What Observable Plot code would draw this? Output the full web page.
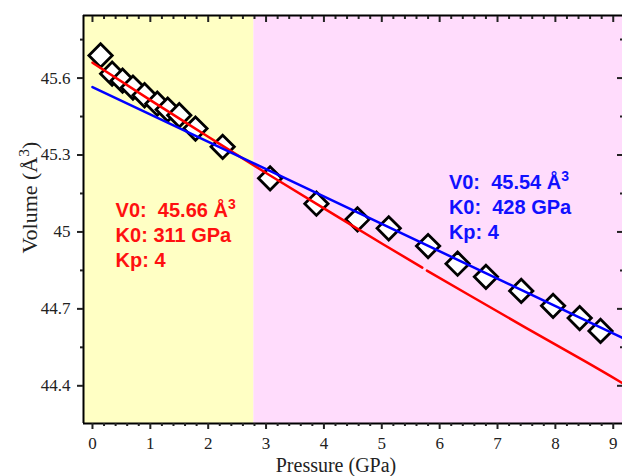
<!DOCTYPE html>
<html><head><meta charset="utf-8">
<script src="https://cdn.jsdelivr.net/npm/d3@7"></script>
<script src="https://cdn.jsdelivr.net/npm/@observablehq/plot@0.6"></script>
<style>body{margin:0;background:#fff} svg text{white-space:pre}</style>
</head><body><div id="chart"></div>
<script>
// Measured points
const pressure = [0.14,0.34,0.52,0.70,0.90,1.12,1.30,1.50,1.78,2.25,3.07,3.87,4.58,5.12,5.80,6.31,6.80,7.41,7.96,8.42,8.78];
const volume   = [45.688,45.617,45.590,45.563,45.533,45.500,45.477,45.455,45.403,45.332,45.209,45.110,45.049,45.014,44.945,44.876,44.825,44.770,44.712,44.664,44.614];

// Red fit line (two pieces, small gap)
const redP1 = [0,1,2,3,4,5,5.70];
const redV1 = [45.660,45.514,45.371,45.230,45.092,44.955,44.861];
const redP2 = [5.78,6.5,7.5,8.5,9.2];
const redV2 = [44.849,44.755,44.625,44.497,44.405];

// Blue fit line
const blueP = [0,9.2];
const blueV = [45.565,44.583];

// Background phases
const phaseFrom = [-0.155, 2.79];
const phaseTo   = [2.79, 9.16];

// Annotations
const redText  = ["V0:  45.66 Å³","K0: 311 GPa","Kp: 4"];
const blueText = ["V0:  45.54 Å³","K0:  428 GPa","Kp: 4"];
const annotX = [0.40, 6.16];
const annotY = [45.129, 45.237];

// Axis ticks
const xMajor = [0,1,2,3,4,5,6,7,8,9];
const xMinor = [0.2,0.4,0.6,0.8,1.2,1.4,1.6,1.8,2.2,2.4,2.6,2.8,3.2,3.4,3.6,3.8,4.2,4.4,4.6,4.8,5.2,5.4,5.6,5.8,6.2,6.4,6.6,6.8,7.2,7.4,7.6,7.8,8.2,8.4,8.6,8.8,9.2];
const yMajor = [44.4,44.7,45.0,45.3,45.6];
const yLabels = ["44.4","44.7","45","45.3","45.6"];
const yMinor = [44.55,44.85,45.15,45.45,45.75];
const xDomain = [-0.155, 9.16];
const yDomain = [44.253, 45.844];

const pts = pressure.map((p,i)=>({p, v: volume[i]}));
const red1 = redP1.map((p,i)=>({p, v: redV1[i]}));
const red2 = redP2.map((p,i)=>({p, v: redV2[i]}));
const blue = blueP.map((p,i)=>({p, v: blueV[i]}));
const annots = [
  {x: annotX[0], y: annotY[0], t: redText.join("\n"), c: "#ff1010"},
  {x: annotX[1], y: annotY[1], t: blueText.join("\n"), c: "#1010ff"}
];
const yFmt = d => yLabels[yMajor.indexOf(d)] ?? "";
const none = () => "";
const serif = "'Liberation Serif','Times New Roman',serif";
const sans = "'Liberation Sans',Arial,sans-serif";

const chart = Plot.plot({
  width: 622, height: 476,
  marginLeft: 83, marginRight: 0, marginTop: 15, marginBottom: 53,
  x: {domain: xDomain},
  y: {domain: yDomain},
  style: {fontFamily: serif, fontSize: "17px", color: "#222", background: "#fff"},
  marks: [
    Plot.rect([0], {x1: phaseFrom[0], x2: phaseTo[0], fill: "#ffffc4"}),
    Plot.rect([0], {x1: phaseFrom[1], x2: phaseTo[1], fill: "#ffdcfc"}),
    Plot.dot(pts, {x: "p", y: "v", symbol: "diamond2", r: 10.5, fill: "white", stroke: "black", strokeWidth: 2.8}),
    Plot.line(red1, {x: "p", y: "v", stroke: "#ff0000", strokeWidth: 2.5, curve: "natural"}),
    Plot.line(red2, {x: "p", y: "v", stroke: "#ff0000", strokeWidth: 2.5, curve: "natural"}),
    Plot.line(blue, {x: "p", y: "v", stroke: "#0000ff", strokeWidth: 2.5}),
    Plot.text(annots, {x: "x", y: "y", text: "t", fill: "c", textAnchor: "start", lineAnchor: "top", lineHeight: 1.25, fontSize: 20, fontWeight: "bold", fontFamily: sans}),
    // frame (left, top, bottom)
    Plot.ruleX([xDomain[0]], {stroke: "black", strokeWidth: 2}),
    Plot.ruleY([yDomain[0]], {stroke: "black", strokeWidth: 2}),
    Plot.ruleY([yDomain[1]], {stroke: "black", strokeWidth: 2}),
    Plot.axisX(xMajor, {anchor: "bottom", tickSize: 6, tickPadding: 7, strokeWidth: 2, label: null, fill: "#222"}),
    Plot.axisX(xMinor, {anchor: "bottom", tickSize: 3, tickFormat: none, strokeWidth: 2, label: null}),
    Plot.axisX(xMajor, {anchor: "top", tickSize: -6, tickFormat: none, strokeWidth: 2, label: null}),
    Plot.axisX(xMinor, {anchor: "top", tickSize: -3, tickFormat: none, strokeWidth: 2, label: null}),
    Plot.axisY(yMajor, {anchor: "left", tickSize: 6, tickPadding: 7, strokeWidth: 2, tickFormat: yFmt, label: null, fill: "#222"}),
    Plot.axisY(yMinor, {anchor: "left", tickSize: 3, tickFormat: none, strokeWidth: 2, label: null}),
    Plot.axisY(yMajor, {anchor: "right", tickSize: -6, tickFormat: none, strokeWidth: 2, label: null}),
    Plot.axisY(yMinor, {anchor: "right", tickSize: -3, tickFormat: none, strokeWidth: 2, label: null}),
    Plot.text(["Pressure (GPa)"], {frameAnchor: "bottom", dx: -17, dy: 34, lineAnchor: "top", fontSize: 20, fill: "#222", fontFamily: serif}),
    Plot.text(["Volume (Å³)"], {frameAnchor: "left", dx: -54, dy: 34, rotate: -90, fontSize: 22, fill: "#222", fontFamily: serif})
  ]
});
// render the "³" as a raised, real-text superscript digit
chart.querySelectorAll("text, tspan").forEach(el => {
  el.childNodes.forEach(n => {
    if (n.nodeType === 3 && n.nodeValue.includes("³")) {
      const parts = n.nodeValue.split("³");
      const frag = document.createDocumentFragment();
      parts.forEach((s, i) => {
        if (s) frag.appendChild(document.createTextNode(s));
        if (i < parts.length - 1) {
          const sup = document.createElementNS("http://www.w3.org/2000/svg", "tspan");
          sup.setAttribute("baseline-shift", "super");
          sup.setAttribute("font-size", "0.7em");
          sup.textContent = "3";
          frag.appendChild(sup);
        }
      });
      el.replaceChild(frag, n);
    }
  });
});
document.getElementById("chart").appendChild(chart);
</script>
</body></html>
